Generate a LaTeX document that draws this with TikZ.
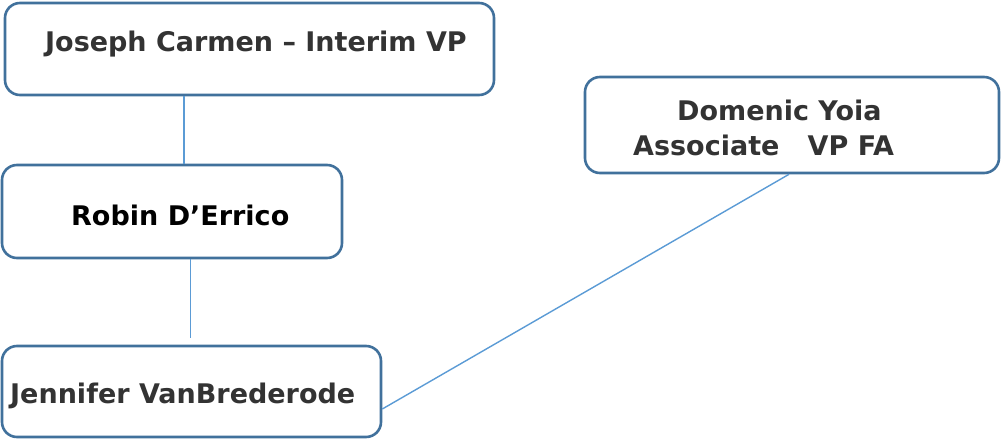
\documentclass[tikz,border=0pt]{standalone}
\usepackage{fontspec}
\setmainfont{DejaVu Sans}
\usetikzlibrary{positioning}
\definecolor{boxblue}{HTML}{41719C}
\definecolor{linkblue}{HTML}{5B9BD5}
\definecolor{txtgray}{HTML}{333333}

\begin{document}
\begin{tikzpicture}[x=1pt, y=-1pt,
    box/.style={draw=boxblue, line width=2.6pt, rounded corners=15pt,
        rectangle, inner sep=0pt, fill=white},
    link/.style={draw=linkblue, line width=1.4pt},
    persontext/.style={anchor=base west, inner sep=0pt, text=txtgray,
        font=\fontsize{27}{35}\selectfont\bfseries}]
    \useasboundingbox (0,0) rectangle (1002,439);
    % Boxes
    \node[box, minimum width=489pt, minimum height=92pt] (joseph) at (249.5,49) {};
    \node[box, minimum width=414pt, minimum height=96pt] (domenic) at (792,125) {};
    \node[box, minimum width=340pt, minimum height=93pt] (robin) at (172,211.5) {};
    \node[box, minimum width=379pt, minimum height=91pt] (jennifer) at (191.5,391.5) {};
    % Names
    \node[persontext] (t-joseph) at (45,51) {Joseph Carmen – Interim VP};
    \node[persontext] (t-domenic) at (677,120) {Domenic Yoia};
    \node[persontext] (t-associate) at (633,155) {Associate\ \ \ VP FA};
    \node[persontext, text=black] (t-robin) at (71,225) {Robin D’Errico};
    \node[persontext] (t-jennifer) at (10,403) {Jennifer VanBrederode};
    % Reporting lines
    \draw[link] ([xshift=-65.5pt]joseph.south) -- ([xshift=12pt]robin.north);
    \draw[link] ([xshift=18.7pt]robin.south) -- ([xshift=-0.8pt, yshift=7pt]jennifer.north);
    \draw[link] ([xshift=-3pt]domenic.south) -- ([yshift=-17.5pt]jennifer.east);
\end{tikzpicture}
\end{document}
